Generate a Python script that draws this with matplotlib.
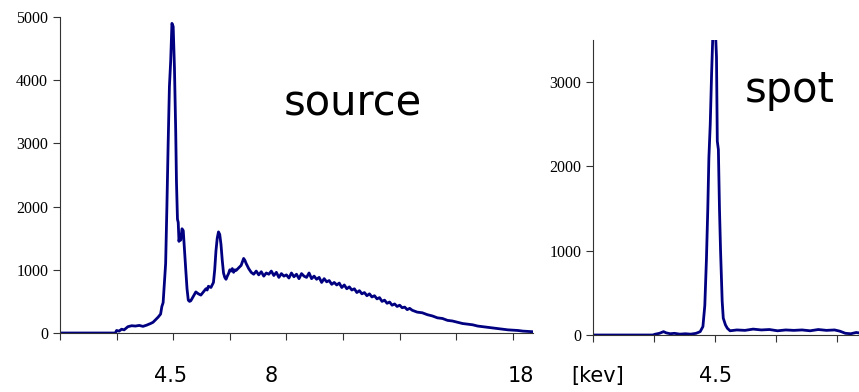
import matplotlib
matplotlib.use('Agg')
import matplotlib.pyplot as plt
from matplotlib.ticker import MultipleLocator

# source spectrum (keV, counts)
src_kev = [0.0, 2.2, 2.25, 2.35, 2.45, 2.55, 2.7, 2.85, 3.0, 3.15, 3.3, 3.45, 3.6, 3.7, 3.8, 3.9,
           4.0, 4.05, 4.1, 4.15, 4.2, 4.25, 4.3, 4.35, 4.4, 4.45, 4.5, 4.55, 4.6, 4.63, 4.67, 4.7,
           4.73, 4.77, 4.8, 4.85, 4.9, 4.95, 5.0, 5.05, 5.1, 5.15, 5.2, 5.3, 5.4, 5.5, 5.6, 5.7,
           5.8, 5.85, 5.9, 6.0, 6.05, 6.1, 6.15, 6.2, 6.25, 6.3, 6.35, 6.4, 6.45, 6.5, 6.55, 6.6,
           6.65, 6.7, 6.75, 6.8, 6.85, 6.9, 6.95, 7.0, 7.1, 7.2, 7.3, 7.35, 7.4, 7.5, 7.6, 7.7,
           7.8, 7.9, 8.0, 8.1, 8.2, 8.3, 8.4, 8.5, 8.6, 8.7, 8.8, 8.9, 9.0, 9.1, 9.2, 9.3,
           9.4, 9.5, 9.6, 9.7, 9.8, 9.9, 10.0, 10.1, 10.2, 10.3, 10.4, 10.5, 10.6, 10.7, 10.8, 10.9,
           11.0, 11.1, 11.2, 11.3, 11.4, 11.5, 11.6, 11.7, 11.8, 11.9, 12.0, 12.1, 12.2, 12.3,
           12.4, 12.5, 12.6, 12.7, 12.8, 12.9, 13.0, 13.1, 13.2, 13.3, 13.4, 13.5, 13.6, 13.7,
           13.8, 13.9, 14.0, 14.2, 14.4, 14.6, 14.8, 15.0, 15.2, 15.4, 15.6, 15.8, 16.0, 16.2,
           16.4, 16.6, 16.8, 17.0, 17.2, 17.4, 17.6, 17.8, 18.0, 18.2, 18.4, 18.6, 18.8]
src_counts = [0, 0, 40, 30, 60, 50, 100, 115, 110, 120, 105, 125, 150, 170, 210, 250,
              300, 420, 480, 800, 1100, 2000, 3000, 3900, 4300, 4900, 4850, 4200, 3200, 2400, 1800, 1750,
              1450, 1550, 1470, 1650, 1620, 1300, 1000, 700, 520, 500, 510, 580, 650, 620, 600, 650,
              700, 680, 740, 720, 760, 800, 1000, 1300, 1500, 1600, 1560, 1400, 1150, 950, 880, 850,
              900, 940, 1000, 980, 1020, 960, 1000, 990, 1030, 1070, 1180, 1150, 1100, 1020, 960, 930,
              980, 920, 970, 900, 950, 930, 980, 910, 960, 880, 940, 900, 920, 870, 950, 890,
              930, 860, 940, 900, 880, 950, 860, 900, 850, 880, 800, 860, 810, 830, 770, 800,
              760, 790, 720, 760, 700, 730, 680, 700, 640, 670, 620, 640, 590, 620,
              570, 590, 540, 560, 500, 520, 470, 490, 440, 460, 420, 440, 400, 410,
              370, 390, 360, 330, 320, 290, 270, 240, 230, 200, 190, 170, 150, 140,
              130, 110, 100, 90, 80, 70, 60, 50, 45, 40, 30, 25, 20]

# spot spectrum (keV, counts)
spot_kev = [0.0, 2.2, 2.3, 2.45, 2.6, 2.7, 2.85, 3.0, 3.2, 3.4, 3.6, 3.8, 3.95, 4.05, 4.12, 4.18,
            4.23, 4.27, 4.32, 4.37, 4.42, 4.5, 4.55, 4.58, 4.62, 4.66, 4.7, 4.73, 4.76, 4.8, 4.88,
            4.95, 5.05, 5.3, 5.6, 5.9, 6.2, 6.5, 6.8, 7.1, 7.4, 7.7, 8.0, 8.3, 8.6, 8.9, 9.1,
            9.3, 9.5, 9.7, 9.8]
spot_counts = [0, 0, 10, 20, 40, 25, 15, 20, 10, 15, 10, 20, 40, 100, 350, 900,
               1500, 2100, 2500, 3100, 3600, 3700, 3300, 2300, 2200, 1500, 1000, 700, 400, 200, 120,
               80, 50, 60, 55, 70, 60, 65, 50, 60, 55, 60, 50, 65, 55, 60, 45,
               20, 15, 30, 25]

src_labels = ['4.5', '8', '18']
src_label_pos = [4.4, 8.4, 18.3]

line_color = '#000080'
serif = 'Liberation Serif'

fig = plt.figure(figsize=(8.59, 3.92), dpi=100)
ax1 = fig.add_axes([0.0698, 0.1505, 0.5507, 0.806])
ax2 = fig.add_axes([0.6903, 0.1454, 0.3097, 0.7526])

def style(ax, xmax, ymax):
    for s in ['top', 'right']:
        ax.spines[s].set_visible(False)
    for s in ['left', 'bottom']:
        ax.spines[s].set_color('#333333')
        ax.spines[s].set_linewidth(0.8)
    ax.set_xlim(0, xmax)
    ax.set_ylim(0, ymax)
    ax.xaxis.set_major_locator(MultipleLocator(2.25))
    ax.yaxis.set_major_locator(MultipleLocator(1000))
    ax.tick_params(axis='x', direction='out', length=5, width=0.8, color='#333333', labelbottom=False)
    ax.tick_params(axis='y', direction='out', length=5, width=0.8, color='#333333', labelsize=11.5)
    for t in ax.get_yticklabels():
        t.set_family(serif)

ax1.plot(src_kev, src_counts, color=line_color, lw=2)
style(ax1, 18.8, 5000)
ax1.text(0.62, 0.73, 'source', transform=ax1.transAxes, fontsize=30, ha='center', va='center')
for lab, pos in zip(src_labels, src_label_pos):
    ax1.text(pos, -0.135, lab, transform=ax1.get_xaxis_transform(), fontsize=15, ha='center', va='center')

ax2.plot(spot_kev, spot_counts, color=line_color, lw=2)
style(ax2, 9.8, 3500)
ax2.text(0.738, 0.83, 'spot', transform=ax2.transAxes, fontsize=30, ha='center', va='center')
ax2.text(4.5, -0.14, '4.5', transform=ax2.get_xaxis_transform(), fontsize=15, ha='center', va='center')
fig.text(0.696, 0.041, '[kev]', fontsize=15, ha='center', va='center')

fig.savefig('out.png', dpi=100)
